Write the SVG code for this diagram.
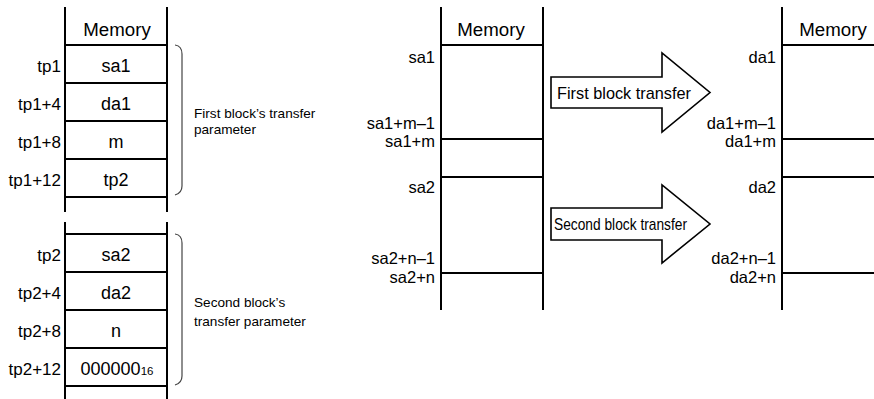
<svg xmlns="http://www.w3.org/2000/svg" width="874" height="399" viewBox="0 0 874 399">
<style>
text{font-family:"Liberation Sans",Arial,sans-serif;fill:#000}
.cell{font-size:18px;text-anchor:middle}
.hdr{font-size:18.7px;text-anchor:middle}
.addr{font-size:17px;text-anchor:end}
.addr2{font-size:16.5px;text-anchor:end}
.note{font-size:13.6px}
.ln{stroke:#000;stroke-width:2;fill:none}
.brace{stroke:#444;stroke-width:1.2;fill:none}
.arrow{stroke:#000;stroke-width:1.6;fill:#fff;stroke-linejoin:miter}
.atext{font-size:17px}
</style>
<rect width="874" height="399" fill="#fff"/>

<g id="param-table-1">
  <path class="ln" d="M65 7V212M167 7V212M65 45H167M65 83H167M65 121H167M65 159H167M65 197H167"/>
  <text class="hdr" x="117" y="36">Memory</text>
  <text class="addr" x="61" y="72">tp1</text>
  <text class="cell" x="116" y="72">sa1</text>
  <text class="addr" x="61" y="110">tp1+4</text>
  <text class="cell" x="116" y="110">da1</text>
  <text class="addr" x="61" y="148">tp1+8</text>
  <text class="cell" x="116" y="148">m</text>
  <text class="addr" x="61" y="186">tp1+12</text>
  <text class="cell" x="116" y="186">tp2</text>
  <path class="brace" d="M175 45Q182 46 182 54V186Q182 193 175 195"/>
  <text class="note" x="194" y="118">First block’s transfer</text>
  <text class="note" x="194" y="134">parameter</text>
</g>

<g id="param-table-2">
  <path class="ln" d="M65 222V399M167 222V399M65 234H167M65 272H167M65 310H167M65 348H167M65 386H167"/>
  <text class="addr" x="61" y="261">tp2</text>
  <text class="cell" x="116" y="261">sa2</text>
  <text class="addr" x="61" y="299">tp2+4</text>
  <text class="cell" x="116" y="299">da2</text>
  <text class="addr" x="61" y="337">tp2+8</text>
  <text class="cell" x="116" y="337">n</text>
  <text class="addr" x="61" y="375">tp2+12</text>
  <text class="cell" x="117" y="375">000000<tspan font-size="11.5">16</tspan></text>
  <path class="brace" d="M175 234Q182 235 182 243V376Q182 383 175 385"/>
  <text class="note" x="194" y="307">Second block’s</text>
  <text class="note" x="194" y="326">transfer parameter</text>
</g>

<g id="source-memory">
  <path class="ln" d="M441 7V310M543 7V310M441 45H543M441 139H543M441 177H543M441 273H543"/>
  <text class="hdr" x="491" y="36">Memory</text>
  <text class="addr2" x="435" y="63">sa1</text>
  <text class="addr2" x="435" y="129">sa1+m–1</text>
  <text class="addr2" x="435" y="147">sa1+m</text>
  <text class="addr2" x="435" y="193">sa2</text>
  <text class="addr2" x="435" y="264">sa2+n–1</text>
  <text class="addr2" x="435" y="283">sa2+n</text>
</g>

<g id="dest-memory">
  <path class="ln" d="M782 7V310M782 45H874M782 139H874M782 177H874M782 273H874"/>
  <text class="hdr" x="833" y="36">Memory</text>
  <text class="addr2" x="776" y="63">da1</text>
  <text class="addr2" x="776" y="129">da1+m–1</text>
  <text class="addr2" x="776" y="147">da1+m</text>
  <text class="addr2" x="776" y="193">da2</text>
  <text class="addr2" x="776" y="264">da2+n–1</text>
  <text class="addr2" x="776" y="283">da2+n</text>
</g>

<g id="connectors">
  <g id="first-transfer">
    <path class="arrow" d="M551 77H662V53L710 92.5L662 132V108H551Z"/>
    <text class="atext" x="557" y="99" textLength="134" lengthAdjust="spacingAndGlyphs">First block transfer</text>
  </g>
  <g id="second-transfer">
    <path class="arrow" d="M551 208H662V185L710 224L662 263V240H551Z"/>
    <text class="atext" x="554" y="230" textLength="133" lengthAdjust="spacingAndGlyphs">Second block transfer</text>
  </g>
</g>
</svg>
